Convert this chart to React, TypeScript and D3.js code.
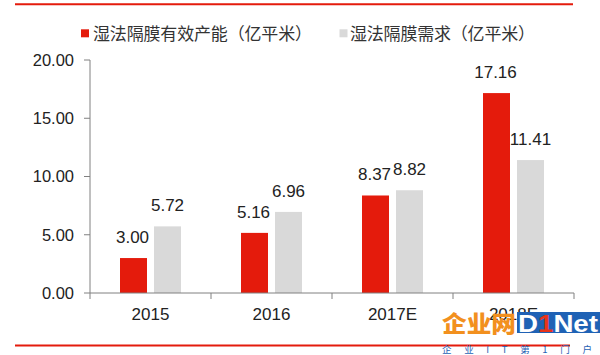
import React from "react";
import * as d3 from "d3";

const categories = ["2015", "2016", "2017E", "2018E"];
const capacity = [3.0, 5.16, 8.37, 17.16];
const demand = [5.72, 6.96, 8.82, 11.41];
const yTicks = [0, 5, 10, 15, 20];
const seriesNames = ["湿法隔膜有效产能（亿平米）", "湿法隔膜需求（亿平米）"];

const RED = "#E41B0C";
const GRAY = "#D9D9D9";
const AXIS = "#808080";
const FONT = "'Liberation Sans', Arial, sans-serif";
const CJK = "'Noto Sans CJK SC', sans-serif";

export default function App() {
  const W = 600, H = 355;
  const x = d3.scaleBand<string>().domain(categories).range([90, 574]);
  const y = d3.scaleLinear().domain([0, 20]).range([293, 60]);
  const barW = 27;
  const gap = 7;
  return (
    <svg width={W} height={H} style={{ position: "absolute", left: 0, top: 0, background: "#fff" }}>
      <line x1={15} x2={573} y1={4.3} y2={4.3} stroke={RED} strokeWidth={2} />
      <line x1={15} x2={570} y1={345.5} y2={345.5} stroke={RED} strokeWidth={2} />
      {/* legend */}
      <rect x={81} y={29.3} width={8} height={8} fill={RED} />
      <text x={93} y={39.5} fontFamily={CJK} fontSize={17} fill="#333" textLength={219} lengthAdjust="spacing">{seriesNames[0]}</text>
      <rect x={339.5} y={29.3} width={8} height={8} fill={GRAY} />
      <text x={350} y={39.5} fontFamily={CJK} fontSize={17} fill="#333" textLength={185} lengthAdjust="spacing">{seriesNames[1]}</text>
      {/* y axis */}
      <line x1={90} x2={90} y1={y(20)} y2={y(0)} stroke={AXIS} strokeWidth={1} />
      {yTicks.map((t) => (
        <g key={t}>
          <line x1={84} x2={90} y1={y(t)} y2={y(t)} stroke={AXIS} />
          <text x={74} y={y(t)} dy="0.36em" textAnchor="end" fontFamily={FONT} fontSize={16.5} fill="#222">
            {t.toFixed(2)}
          </text>
        </g>
      ))}
      {/* bars */}
      {categories.map((c, i) => {
        const cx = (x(c) as number) + x.bandwidth() / 2;
        const rx = cx - gap / 2 - barW;
        const gx = cx + gap / 2;
        return (
          <g key={c}>
            <rect x={rx} y={y(capacity[i])} width={barW} height={y(0) - y(capacity[i])} fill={RED} />
            <rect x={gx} y={y(demand[i])} width={barW} height={y(0) - y(demand[i])} fill={GRAY} />
            <text x={rx + barW / 2 - 1} y={y(capacity[i]) - 15} textAnchor="middle" fontFamily={FONT} fontSize={17} fill="#222">
              {capacity[i].toFixed(2)}
            </text>
            <text x={gx + barW / 2} y={y(demand[i]) - 15} textAnchor="middle" fontFamily={FONT} fontSize={17} fill="#222">
              {demand[i].toFixed(2)}
            </text>
          </g>
        );
      })}
      {/* x axis */}
      <line x1={90} x2={574} y1={293} y2={293} stroke={AXIS} />
      {[...categories.map((c) => x(c) as number), 574].map((v, i) => (
        <line key={i} x1={v} x2={v} y1={293} y2={299} stroke={AXIS} />
      ))}
      {categories.map((c) => (
        <text key={c} x={(x(c) as number) + x.bandwidth() / 2} y={320} textAnchor="middle" fontFamily={FONT} fontSize={17} fill="#222">
          {c}
        </text>
      ))}
      {/* watermark */}
      <text x={442} y={332} fontFamily={CJK} fontSize={23} fontWeight={900} fill="#F2901E" textLength={74} lengthAdjust="spacingAndGlyphs">企业网</text>
      <rect x={517} y={312} width={83} height={21} fill="#1F62B5" />
      <text x={558} y={332} textAnchor="middle" fontFamily={FONT} fontSize={24} fontWeight={700} fill="#fff" textLength={80} lengthAdjust="spacingAndGlyphs">
        D<tspan fill="#E8341C">1</tspan>Net
      </text>
      <text x={442} y={353} fontFamily={CJK} fontSize={9.5} fill="#1F62B5" textLength={150} lengthAdjust="spacing">企业IT第1门户</text>
    </svg>
  );
}
